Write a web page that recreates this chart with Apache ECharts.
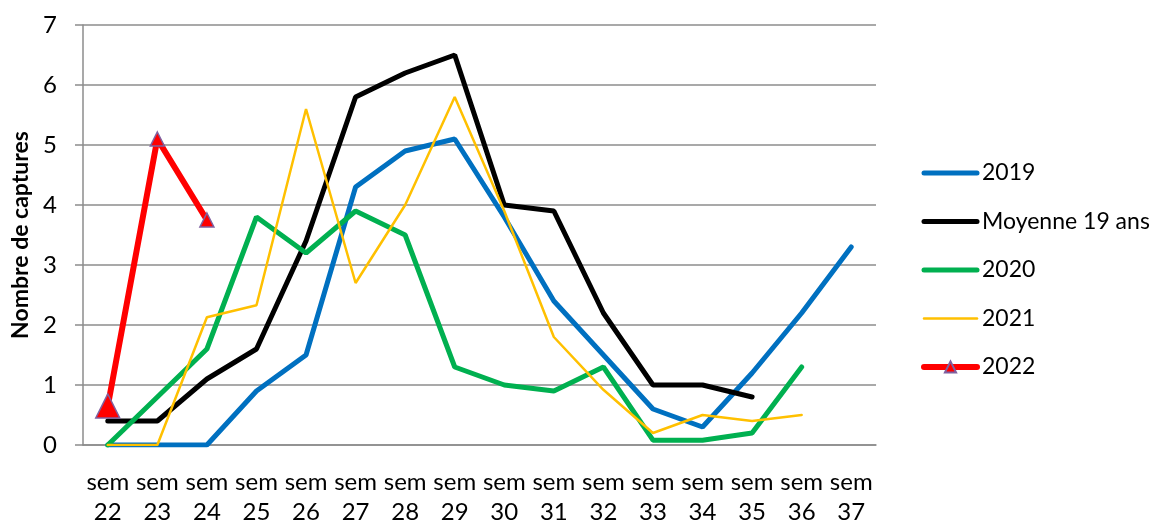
<!DOCTYPE html>
<html>
<head>
<meta charset="utf-8">
<script src="https://cdn.jsdelivr.net/npm/echarts@6/dist/echarts.min.js"></script>
<style>
  html, body { margin: 0; padding: 0; background: #fff; }
  #main { width: 1156px; height: 523px; }
</style>
</head>
<body>
<div id="main"></div>
<script>
var weeks = ["sem\n22", "sem\n23", "sem\n24", "sem\n25", "sem\n26", "sem\n27", "sem\n28", "sem\n29",
             "sem\n30", "sem\n31", "sem\n32", "sem\n33", "sem\n34", "sem\n35", "sem\n36", "sem\n37"];

var y2019 = [0, 0, 0, 0.9, 1.5, 4.3, 4.9, 5.1, 3.8, 2.4, 1.5, 0.6, 0.3, 1.2, 2.2, 3.3];
var moyenne = [0.4, 0.4, 1.1, 1.6, 3.4, 5.8, 6.2, 6.5, 4.0, 3.9, 2.2, 1.0, 1.0, 0.8, null, null];
var y2020 = [0, 0.8, 1.6, 3.8, 3.2, 3.9, 3.5, 1.3, 1.0, 0.9, 1.3, 0.08, 0.08, 0.2, 1.3, null];
var y2021 = [0, 0, 2.13, 2.33, 5.6, 2.7, 4.0, 5.8, 3.9, 1.8, 0.92, 0.2, 0.5, 0.4, 0.5, null];
var y2022 = [0.65, 5.1, 3.75];

void (function() {
  var chart = echarts.init(document.getElementById("main"));
  var font = "Lato, 'Liberation Sans', sans-serif";

  function plain(name, data, color, width) {
    return {
      name: name,
      type: "line",
      data: data,
      symbol: "none",
      connectNulls: false,
      lineStyle: { color: color, width: width, cap: "round" },
      itemStyle: { color: color }
    };
  }

  // line only in the legend for the plain series
  function legendItem(name, width) {
    return { name: name, itemStyle: { opacity: 0 }, lineStyle: { width: width, cap: "round" } };
  }

  var option = {
    animation: false,
    textStyle: { fontFamily: font },
    grid: { left: 83, right: 280, top: 25, bottom: 78, outerBoundsMode: "none", containLabel: false },
    legend: {
      orient: "vertical",
      left: 916,
      top: 156,
      itemWidth: 53,
      itemHeight: 14,
      itemGap: 24.5,
      textStyle: { fontSize: 23, lineHeight: 24, color: "#000", fontFamily: font },
      data: [
        legendItem("2019", 5),
        legendItem("Moyenne 19 ans", 5),
        legendItem("2020", 5),
        legendItem("2021", 2.5),
        { name: "2022", lineStyle: { width: 6, cap: "round" } }
      ]
    },
    xAxis: {
      type: "category",
      data: weeks,
      boundaryGap: true,
      axisLine: { lineStyle: { color: "#8c8c8c", width: 1.5 } },
      axisTick: { show: false },
      axisLabel: { fontSize: 24, color: "#000", lineHeight: 30, margin: 22, interval: 0 }
    },
    yAxis: {
      type: "value",
      min: 0,
      max: 7,
      interval: 1,
      name: "Nombre de captures",
      nameLocation: "middle",
      nameGap: 50,
      nameTextStyle: { fontSize: 23, fontWeight: "bold", color: "#000" },
      axisLine: { show: true, lineStyle: { color: "#8c8c8c", width: 1.5 } },
      axisTick: { show: true, length: 8, lineStyle: { color: "#8c8c8c", width: 1.5 } },
      axisLabel: { fontSize: 24, color: "#000", margin: 26 },
      splitLine: { lineStyle: { color: "#8c8c8c", width: 1.5 } }
    },
    series: [
      plain("2019", y2019, "#0070C0", 5),
      plain("Moyenne 19 ans", moyenne, "#000000", 5),
      plain("2020", y2020, "#00B050", 5),
      plain("2021", y2021, "#FFC000", 2.5),
      {
        name: "2022",
        type: "line",
        data: y2022.map(function(v, i) {
          return i === 0 ? { value: v, symbolSize: 24 } : v;
        }),
        symbol: "triangle",
        symbolSize: 14,
        lineStyle: { color: "#FF0000", width: 6 },
        itemStyle: { color: "#FF0000", borderColor: "#7F60A0", borderWidth: 1.5 }
      }
    ]
  };

  chart.setOption(option);
})();
</script>
</body>
</html>
